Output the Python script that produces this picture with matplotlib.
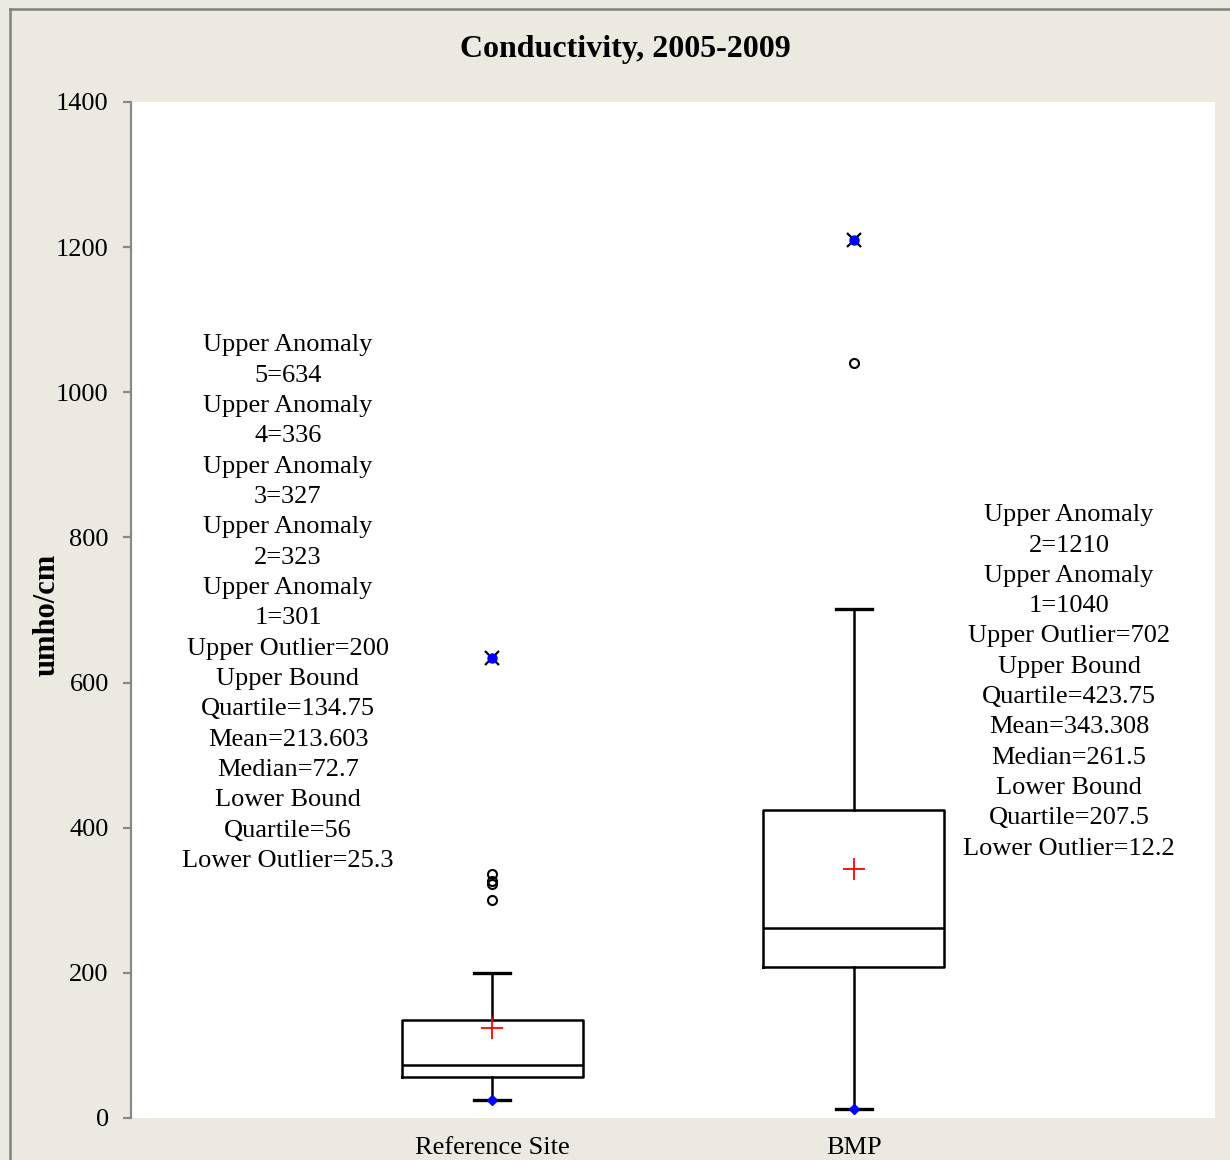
import matplotlib
matplotlib.use("Agg")
import matplotlib.pyplot as plt
from matplotlib.lines import Line2D

# ---------------- data ----------------
categories = ["Reference Site", "BMP"]
q1 = [56, 207.5]
median = [72.7, 261.5]
q3 = [134.75, 423.75]
whisker_low = [25.3, 12.2]
whisker_high = [200, 702]
mean_marker = [124, 343.308]
outliers = [[301, 323, 327, 336], [1040]]
anomalies = [[634], [1210]]

ref_labels = ["Upper Anomaly", "5=634", "Upper Anomaly", "4=336", "Upper Anomaly", "3=327",
              "Upper Anomaly", "2=323", "Upper Anomaly", "1=301", "Upper Outlier=200",
              "Upper Bound", "Quartile=134.75", "Mean=213.603", "Median=72.7",
              "Lower Bound", "Quartile=56", "Lower Outlier=25.3"]
bmp_labels = ["Upper Anomaly", "2=1210", "Upper Anomaly", "1=1040", "Upper Outlier=702",
              "Upper Bound", "Quartile=423.75", "Mean=343.308", "Median=261.5",
              "Lower Bound", "Quartile=207.5", "Lower Outlier=12.2"]
yticks = [0, 200, 400, 600, 800, 1000, 1200, 1400]

# ---------------- style ----------------
plt.rcParams['font.family'] = ['Liberation Serif', 'DejaVu Serif']
BG = '#ECEAE0'
W, H = 1230, 1160
fig = plt.figure(figsize=(W / 100, H / 100), dpi=100, facecolor=BG)

# outer frame lines (left and top)
fig.add_artist(Line2D([10 / W, 10 / W], [0, 1 - 9 / H], color='#808080', lw=1.8,
                      transform=fig.transFigure))
fig.add_artist(Line2D([10 / W, 1], [1 - 9 / H, 1 - 9 / H], color='#808080', lw=1.8,
                      transform=fig.transFigure))

ax = fig.add_axes([131 / W, (H - 1118) / H, (1215 - 131) / W, (1118 - 102) / H])
ax.set_facecolor('white')

positions = [1, 2]
stats = []
for i, c in enumerate(categories):
    stats.append(dict(label=c, q1=q1[i], med=median[i], q3=q3[i],
                      whislo=whisker_low[i], whishi=whisker_high[i],
                      mean=mean_marker[i], fliers=[]))

ax.bxp(stats, positions=positions, widths=0.5, capwidths=0.1, showfliers=False,
       showmeans=True,
       boxprops=dict(color='black', lw=1.8),
       medianprops=dict(color='black', lw=1.8),
       whiskerprops=dict(color='black', lw=1.8),
       capprops=dict(color='black', lw=2.4),
       meanprops=dict(marker='+', markeredgecolor='red', markersize=16, markeredgewidth=1.3))

for i, p in enumerate(positions):
    ax.plot([p] * len(outliers[i]), outliers[i], linestyle='none', marker='o',
            mfc='none', mec='black', ms=6.5, mew=1.5, zorder=5)
    ax.plot([p] * len(anomalies[i]), anomalies[i], linestyle='none', marker='x',
            mec='black', ms=10, mew=1.6, zorder=5)
    ax.plot([p] * len(anomalies[i]), anomalies[i], linestyle='none', marker='o',
            mfc='blue', mec='blue', ms=6.5, zorder=6)
    ax.plot([p], [whisker_low[i]], linestyle='none', marker='D', mfc='blue', mec='blue',
            ms=5, zorder=6)

ax.set_xlim(0, 3)
ax.set_ylim(0, 1400)
ax.set_yticks(yticks)
ax.set_xticks(positions)
ax.set_xticklabels(categories)

for s in ['top', 'right', 'bottom']:
    ax.spines[s].set_visible(False)
ax.spines['left'].set_color('#888888')
ax.spines['left'].set_linewidth(1.6)
ax.tick_params(axis='y', length=6, width=1.6, color='#888888', labelsize=19, pad=10)
ax.tick_params(axis='x', length=0, labelsize=19, pad=14)

ax.set_ylabel('umho/cm', fontsize=22, fontweight='bold')
ax.yaxis.set_label_coords(-0.064, 0.495)

fig.text(625 / W, 1 - 50 / H, 'Conductivity, 2005-2009', ha='center', va='center',
         fontsize=23, fontweight='bold')

ax.text(0.4345, 709.6, "\n".join(ref_labels), ha='center', va='center', fontsize=19,
        linespacing=1.49)
ax.text(2.596, 600.8, "\n".join(bmp_labels), ha='center', va='center', fontsize=19,
        linespacing=1.49)

fig.savefig('out.png', dpi=100, facecolor=BG)
